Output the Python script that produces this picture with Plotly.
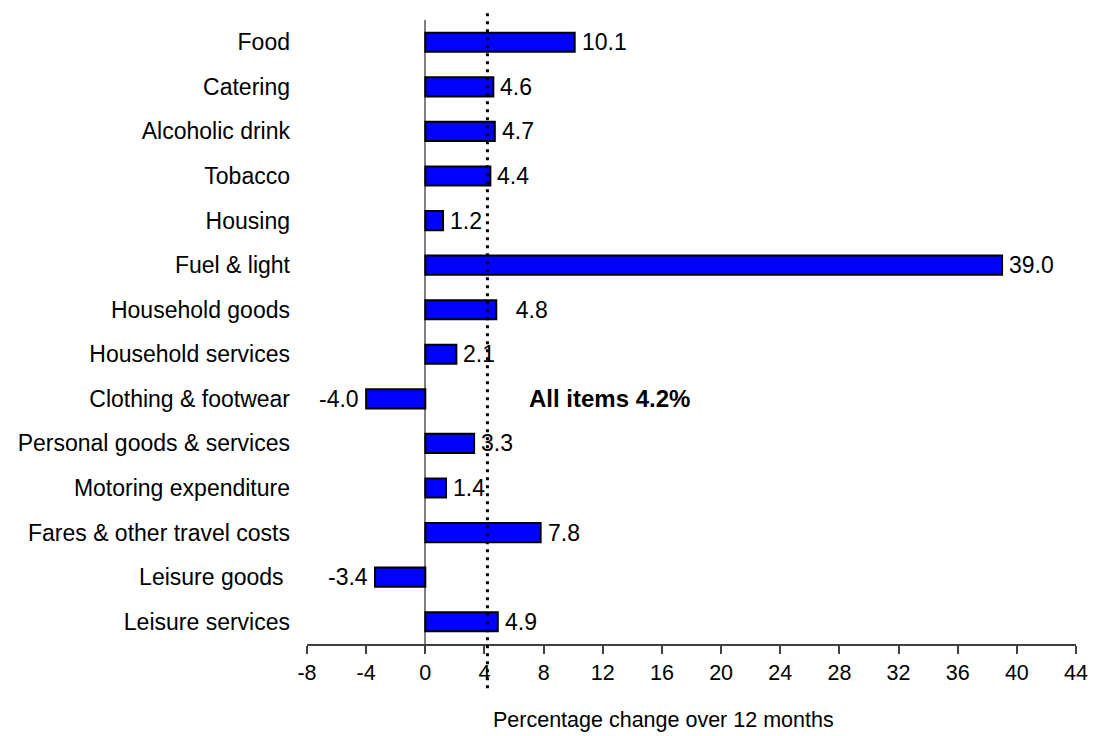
import plotly.graph_objects as go

# Consumer price index components, % change over 12 months
categories = [
    "Food", "Catering", "Alcoholic drink", "Tobacco", "Housing",
    "Fuel & light", "Household goods", "Household services",
    "Clothing & footwear", "Personal goods & services",
    "Motoring expenditure", "Fares & other travel costs",
    "Leisure goods\u00a0", "Leisure services",
]
values = [10.1, 4.6, 4.7, 4.4, 1.2, 39.0, 4.8, 2.1, -4.0, 3.3, 1.4, 7.8, -3.4, 4.9]
value_labels = ["10.1", "4.6", "4.7", "4.4", "1.2", "39.0", "\u00a0 4.8", "2.1",
                "-4.0", "3.3", "1.4", "7.8", "-3.4", "4.9"]
all_items = 4.2
x_ticks = list(range(-8, 45, 4))
x_title = "Percentage change over 12 months"

FONT = "Liberation Sans, Arial, sans-serif"
FS_CAT = 23
FS_TICK = 21.5
FS_TITLE = 21.5
FS_NOTE = 24

fig = go.Figure()
fig.add_trace(go.Bar(
    y=categories, x=values, orientation="h",
    marker=dict(color="#0000FF", line=dict(color="#000000", width=2)),
    width=0.43, hoverinfo="skip",
))

# value labels beside each bar end
for cat, v, lab in zip(categories, values, value_labels):
    fig.add_annotation(
        x=v, y=cat, xref="x", yref="y", text=lab, showarrow=False,
        xanchor="left" if v >= 0 else "right",
        xshift=5 if v >= 0 else -5,
        font=dict(family=FONT, size=FS_CAT, color="#000000"),
    )

# all-items reference line
fig.add_shape(type="line", xref="x", yref="paper",
              x0=all_items, x1=all_items, y0=-0.071, y1=1.011,
              line=dict(color="#000000", width=3, dash="3px,5px"))
fig.add_annotation(x=6.9, y="Clothing & footwear", xref="x", yref="y",
                   text="<b>All items 4.2%</b>", showarrow=False,
                   xanchor="left",
                   font=dict(family=FONT, size=FS_NOTE, color="#000000"))

# x-axis title, placed slightly left of the plot centre
fig.add_annotation(x=0.463, y=0, xref="paper", yref="paper",
                   text=x_title, showarrow=False,
                   xanchor="center", yanchor="middle", yshift=-76,
                   font=dict(family=FONT, size=FS_TITLE, color="#000000"))

fig.update_layout(
    width=1096, height=736,
    margin=dict(l=307, r=20, t=20, b=92),
    paper_bgcolor="white", plot_bgcolor="white",
    showlegend=False,
    font=dict(family=FONT, size=FS_TICK, color="#000000"),
    xaxis=dict(
        range=[-8, 44], tickmode="array", tickvals=x_ticks,
        ticktext=[str(t) for t in x_ticks],
        showgrid=False, zeroline=True, zerolinecolor="#808080", zerolinewidth=1.5,
        showline=True, linecolor="#404040", linewidth=1.5,
        ticks="outside", ticklen=8, tickcolor="#404040", tickwidth=1.5,
        automargin=False,
        tickfont=dict(family=FONT, size=FS_TICK),
    ),
    yaxis=dict(
        categoryorder="array", categoryarray=categories,
        autorange="reversed", range=[13.5, -0.5],
        showgrid=False, zeroline=False, showline=False,
        ticks="", ticklabelstandoff=16, automargin=False,
        tickfont=dict(family=FONT, size=FS_CAT),
    ),
)

fig.write_html("out.html")
